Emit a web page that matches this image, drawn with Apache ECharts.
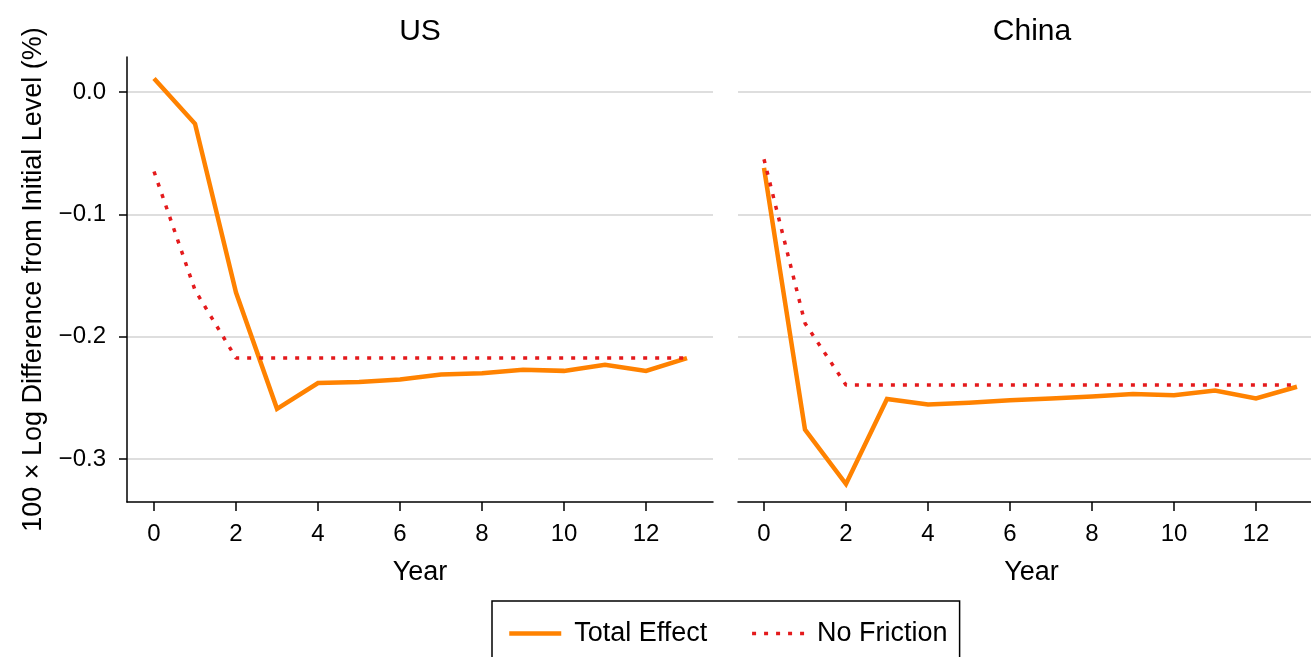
<!DOCTYPE html>
<html>
<head>
<meta charset="utf-8">
<script src="https://cdn.jsdelivr.net/npm/echarts@6/dist/echarts.min.js"></script>
<style>
html,body{margin:0;padding:0;background:#fff;}
#chart{width:1311px;height:657px;}
</style>
</head>
<body>
<div id="chart"></div>
<script>
const years = [0,1,2,3,4,5,6,7,8,9,10,11,12,13];
const panelTitles = ['US', 'China'];
const usTotal = [0.011, -0.026, -0.164, -0.259, -0.238, -0.237, -0.235, -0.231, -0.230, -0.227, -0.228, -0.223, -0.228, -0.2175];
const usNoFriction = [-0.065, -0.162, -0.2175, -0.2175, -0.2175, -0.2175, -0.2175, -0.2175, -0.2175, -0.2175, -0.2175, -0.2175, -0.2175, -0.2175];
const chinaTotal = [-0.062, -0.276, -0.3205, -0.251, -0.2555, -0.254, -0.252, -0.2505, -0.249, -0.247, -0.248, -0.244, -0.2505, -0.241];
const chinaNoFriction = [-0.055, -0.189, -0.2395, -0.2395, -0.2395, -0.2395, -0.2395, -0.2395, -0.2395, -0.2395, -0.2395, -0.2395, -0.2395, -0.2395];
const xTicks = [0, 2, 4, 6, 8, 10, 12];
const yTicks = [-0.3, -0.2, -0.1, 0.0];
const seriesNames = ['Total Effect', 'No Friction'];

const FONT = '"Liberation Sans", Arial, Helvetica, sans-serif';
const ORANGE = '#ff8200';
const RED = '#e41a1c';
const DOT = [4, 8];

function pairs(xs, ys){ return xs.map((x,i)=>[x, ys[i]]); }
function fmtY(v){
  const s = Math.abs(v).toFixed(1);
  return v < -1e-9 ? '\u2212' + s : s;
}

const chart = echarts.init(document.getElementById('chart'), null, {renderer:'canvas'});

function xAxisFor(gi, min, max, namePad){
  return {
    type:'value', gridIndex: gi, min: min, max: max,
    name: 'Year', nameLocation:'middle', nameGap: 57,
    nameTextStyle:{fontFamily:FONT, fontSize:27, color:'#000', padding: namePad},
    axisLine:{show:true, onZero:false, lineStyle:{color:'#000', width:1.5}},
    axisTick:{show:true, length:9, lineStyle:{color:'#000', width:1.5}, customValues: xTicks},
    axisLabel:{fontFamily:FONT, fontSize:24, color:'#000', margin:20, customValues: xTicks},
    splitLine:{show:false}
  };
}
function yAxisFor(gi, showAxis){
  return {
    type:'value', gridIndex: gi, min: -0.3352, max: 0.0286,
    name: showAxis ? '100 \u00d7 Log Difference from Initial Level (%)' : '',
    nameLocation:'middle', nameGap: 80,
    nameTextStyle:{fontFamily:FONT, fontSize:27, color:'#000'},
    axisLine:{show:showAxis, onZero:false, lineStyle:{color:'#000', width:1.5}},
    axisTick:{show:showAxis, length:8, lineStyle:{color:'#000', width:1.5}, customValues: yTicks},
    axisLabel:{show:showAxis, fontFamily:FONT, fontSize:24, color:'#000', margin:21, customValues: yTicks, formatter: fmtY},
    splitLine:{show:true, lineStyle:{color:'#dedede', width:2}}
  };
}

const option = {
  backgroundColor:'#fff',
  animation:false,
  title: [
    {text: panelTitles[0], left: 415, top: 12, textAlign:'center', textStyle:{fontFamily:FONT, fontSize:30, fontWeight:'normal', color:'#000'}},
    {text: panelTitles[1], left: 1027, top: 12, textAlign:'center', textStyle:{fontFamily:FONT, fontSize:30, fontWeight:'normal', color:'#000'}}
  ],
  grid: [
    {left:127, top:57, width:586, height:445, containLabel:false},
    {left:738, top:57, width:573, height:445, containLabel:false}
  ],
  xAxis: [xAxisFor(0, -0.659, 13.634, [0,0,0,0]), xAxisFor(1, -0.634, 13.342, [0,0,0,14])],
  yAxis: [yAxisFor(0, true), yAxisFor(1, false)],
  legend: {
    data: [
      {name: seriesNames[0], itemStyle:{opacity:0}, lineStyle:{color:ORANGE, width:4.5}},
      {name: seriesNames[1], itemStyle:{opacity:0}, lineStyle:{color:RED, width:3.5, type:DOT}}
    ],
    left: 492, top: 601,
    orient:'horizontal',
    padding:[19, 12, 19, 15],
    borderColor:'#000', borderWidth:1.5, borderRadius:0,
    itemWidth:52, itemHeight:14, itemGap:43,
    itemStyle:{opacity:0},
    textStyle:{fontFamily:FONT, fontSize:27, color:'#000', lineHeight:24, padding:[0,0,0,8]}
  },
  series: [
    {name: seriesNames[0], type:'line', xAxisIndex:0, yAxisIndex:0, data: pairs(years, usTotal), symbol:'none', showSymbol:false, lineStyle:{color:ORANGE, width:4.5, join:'miter'}, itemStyle:{color:ORANGE}, z:3},
    {name: seriesNames[1], type:'line', xAxisIndex:0, yAxisIndex:0, data: pairs(years, usNoFriction), symbol:'none', showSymbol:false, lineStyle:{color:RED, width:3.5, type:DOT, cap:'butt'}, itemStyle:{color:RED}, z:4},
    {name: seriesNames[0], type:'line', xAxisIndex:1, yAxisIndex:1, data: pairs(years, chinaTotal), symbol:'none', showSymbol:false, lineStyle:{color:ORANGE, width:4.5, join:'miter'}, itemStyle:{color:ORANGE}, z:3},
    {name: seriesNames[1], type:'line', xAxisIndex:1, yAxisIndex:1, data: pairs(years, chinaNoFriction), symbol:'none', showSymbol:false, lineStyle:{color:RED, width:3.5, type:DOT, cap:'butt'}, itemStyle:{color:RED}, z:4}
  ]
};
chart.setOption(option);
</script>
</body>
</html>
